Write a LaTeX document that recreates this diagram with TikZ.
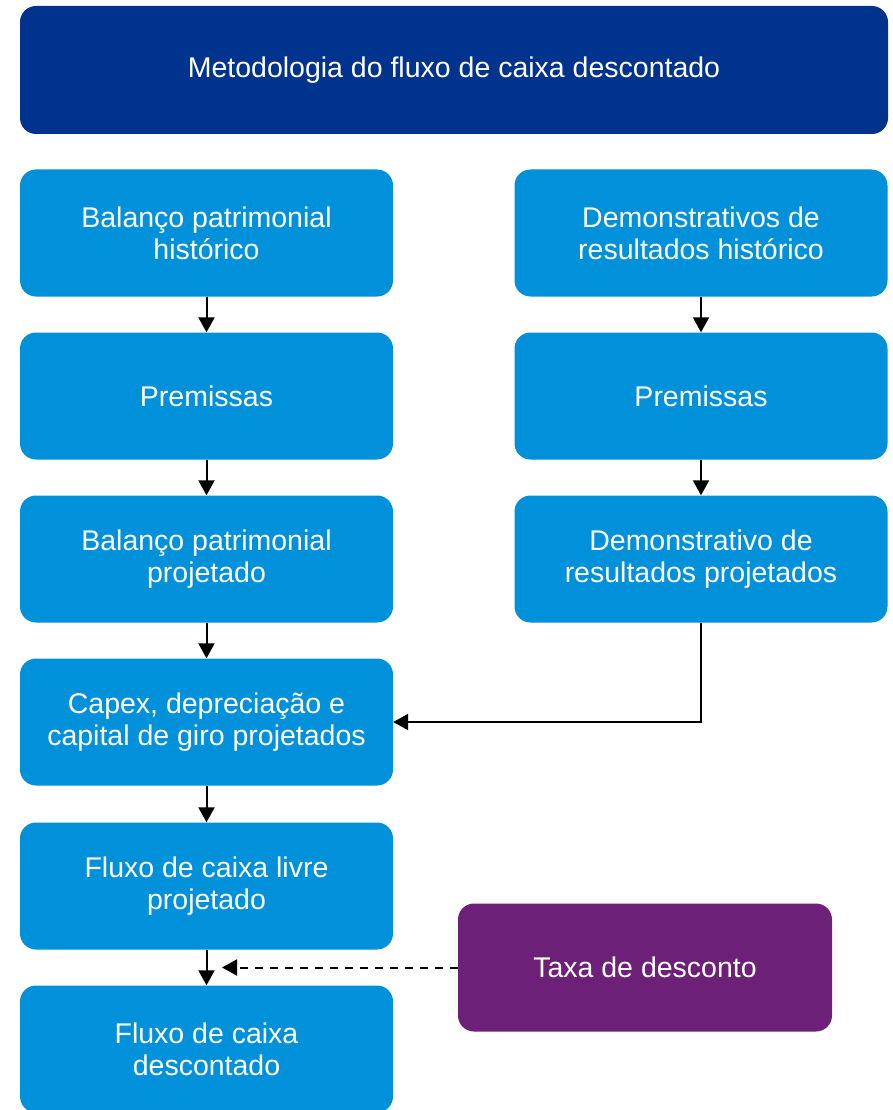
\documentclass[tikz,border=0pt]{standalone}
\usepackage{fontspec}
\setmainfont{Liberation Sans}
\usetikzlibrary{arrows.meta}
\definecolor{kdark}{HTML}{00338D}
\definecolor{klight}{HTML}{0091DA}
\definecolor{kpurple}{HTML}{6D2077}
\tikzset{
  box/.style={rectangle, rounded corners=16pt, fill=klight, text=white,
    minimum width=373pt, minimum height=127pt, align=center, inner sep=0pt,
    font=\fontsize{28.5}{32}\selectfont},
  titlebox/.style={box, fill=kdark, minimum width=868pt, minimum height=128pt},
  ratebox/.style={box, fill=kpurple, minimum width=374pt, minimum height=128pt},
  arr/.style={line width=2pt, -{Triangle[length=15pt,width=16pt]}},
}
\begin{document}
\begin{tikzpicture}[x=1pt,y=-1pt]
\useasboundingbox (0,0) rectangle (892,1110);
\node[titlebox] (t) at (454,70) {Metodologia do fluxo de caixa descontado};
\node[box] (l1) at (206.5,233) {Balanço patrimonial\\histórico};
\node[box] (l2) at (206.5,396) {Premissas};
\node[box] (l3) at (206.5,559) {Balanço patrimonial\\projetado};
\node[box] (l4) at (206.5,722) {Capex, depreciação e\\capital de giro projetados};
\node[box] (l5) at (206.5,886) {Fluxo de caixa livre\\projetado};
\node[box] (l6) at (206.5,1049) {Fluxo de caixa\\descontado};
\node[box] (r1) at (701,233) {Demonstrativos de\\resultados histórico};
\node[box] (r2) at (701,396) {Premissas};
\node[box] (r3) at (701,559) {Demonstrativo de\\resultados projetados};
\node[ratebox] (tx) at (645,967.5) {Taxa de desconto};
\draw[arr] (l1.south) -- (l2.north);
\draw[arr] (l2.south) -- (l3.north);
\draw[arr] (l3.south) -- (l4.north);
\draw[arr] (l4.south) -- (l5.north);
\draw[arr] (l5.south) -- (l6.north);
\draw[arr] (r1.south) -- (r2.north);
\draw[arr] (r2.south) -- (r3.north);
\draw[arr] (r3.south) |- (l4.east);
\coordinate (dt) at (222,967.5);
\draw[arr, dash pattern=on 8pt off 7pt] (tx.west) -- (dt);
\end{tikzpicture}
\end{document}
